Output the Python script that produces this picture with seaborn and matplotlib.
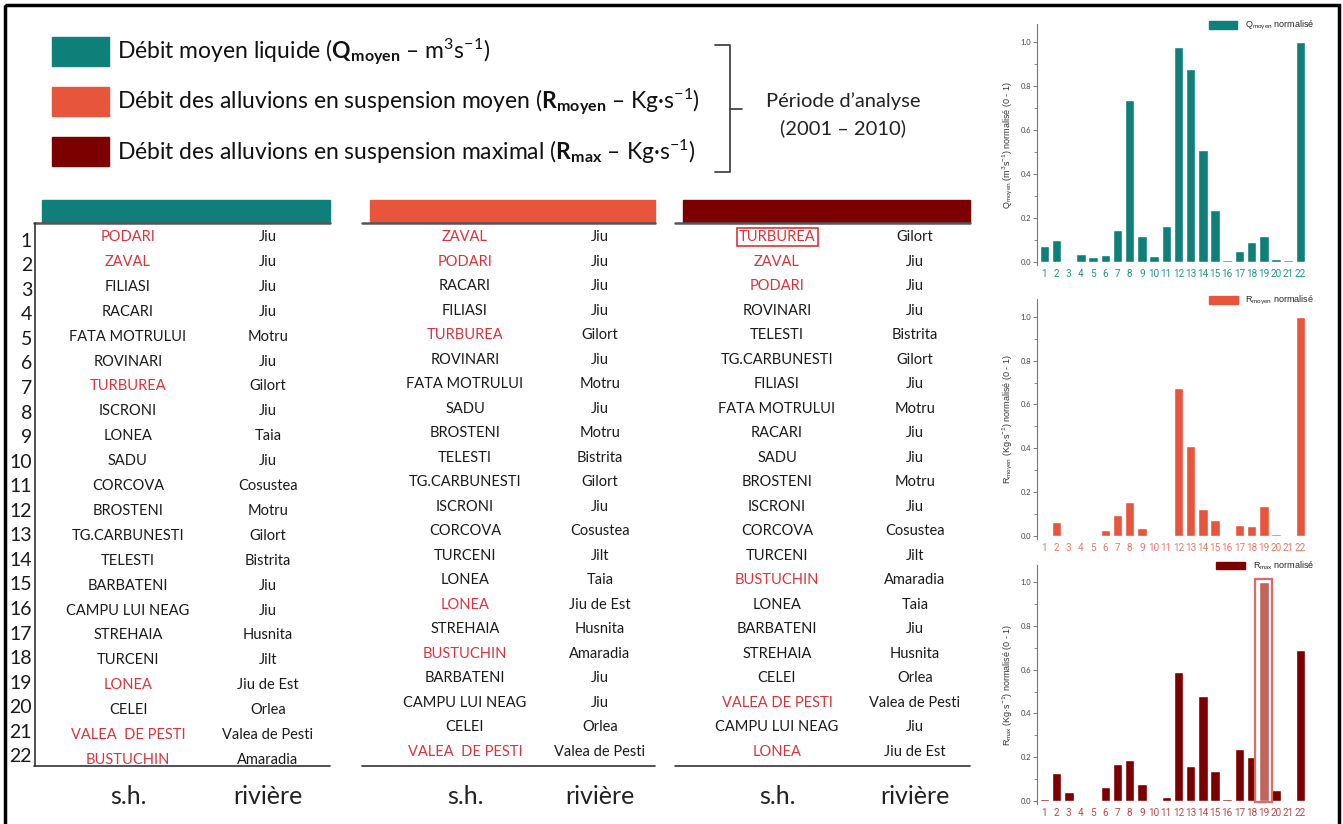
import numpy as np
import pandas as pd
import matplotlib.pyplot as plt
import seaborn as sns
from matplotlib import font_manager
from matplotlib.patches import Rectangle, Patch

stations = [str(i) for i in range(1, 23)]
q_moyen = [0.071, 0.099, 0.0, 0.036, 0.021, 0.033, 0.147, 0.736, 0.119, 0.027, 0.166,
           0.976, 0.878, 0.508, 0.236, 0.009, 0.049, 0.091, 0.119, 0.012, 0.009, 1.0]
r_moyen = [0.002, 0.062, 0.002, 0.002, 0.002, 0.024, 0.093, 0.155, 0.035, 0.002, 0.004,
           0.677, 0.410, 0.123, 0.072, 0.002, 0.050, 0.046, 0.134, 0.006, 0.0, 1.0]
r_max = [0.008, 0.128, 0.040, 0.003, 0.004, 0.065, 0.167, 0.186, 0.079, 0.0, 0.020,
         0.589, 0.160, 0.481, 0.137, 0.007, 0.239, 0.200, 1.0, 0.050, 0.002, 0.688]

# classements (s.h. / rivière)
sh_q = ['PODARI', 'ZAVAL', 'FILIASI', 'RACARI', 'FATA MOTRULUI', 'ROVINARI', 'TURBUREA',
        'ISCRONI', 'LONEA', 'SADU', 'CORCOVA', 'BROSTENI', 'TG.CARBUNESTI', 'TELESTI',
        'BARBATENI', 'CAMPU LUI NEAG', 'STREHAIA', 'TURCENI', 'LONEA', 'CELEI',
        'VALEA  DE PESTI', 'BUSTUCHIN']
riv_q = ['Jiu', 'Jiu', 'Jiu', 'Jiu', 'Motru', 'Jiu', 'Gilort', 'Jiu', 'Taia', 'Jiu',
         'Cosustea', 'Motru', 'Gilort', 'Bistrita', 'Jiu', 'Jiu', 'Husnita', 'Jilt',
         'Jiu de Est', 'Orlea', 'Valea de Pesti', 'Amaradia']
sh_rmoy = ['ZAVAL', 'PODARI', 'RACARI', 'FILIASI', 'TURBUREA', 'ROVINARI', 'FATA MOTRULUI',
           'SADU', 'BROSTENI', 'TELESTI', 'TG.CARBUNESTI', 'ISCRONI', 'CORCOVA', 'TURCENI',
           'LONEA', 'LONEA', 'STREHAIA', 'BUSTUCHIN', 'BARBATENI', 'CAMPU LUI NEAG',
           'CELEI', 'VALEA  DE PESTI']
riv_rmoy = ['Jiu', 'Jiu', 'Jiu', 'Jiu', 'Gilort', 'Jiu', 'Motru', 'Jiu', 'Motru', 'Bistrita',
            'Gilort', 'Jiu', 'Cosustea', 'Jilt', 'Taia', 'Jiu de Est', 'Husnita', 'Amaradia',
            'Jiu', 'Jiu', 'Orlea', 'Valea de Pesti']
sh_rmax = ['TURBUREA', 'ZAVAL', 'PODARI', 'ROVINARI', 'TELESTI', 'TG.CARBUNESTI', 'FILIASI',
           'FATA MOTRULUI', 'RACARI', 'SADU', 'BROSTENI', 'ISCRONI', 'CORCOVA', 'TURCENI',
           'BUSTUCHIN', 'LONEA', 'BARBATENI', 'STREHAIA', 'CELEI', 'VALEA DE PESTI',
           'CAMPU LUI NEAG', 'LONEA']
riv_rmax = ['Gilort', 'Jiu', 'Jiu', 'Jiu', 'Bistrita', 'Gilort', 'Jiu', 'Motru', 'Jiu', 'Jiu',
            'Motru', 'Jiu', 'Cosustea', 'Jilt', 'Amaradia', 'Taia', 'Jiu', 'Husnita', 'Orlea',
            'Valea de Pesti', 'Jiu', 'Jiu de Est']
# stations mises en évidence (en rouge)
highlight = [('PODARI', 'Jiu'), ('ZAVAL', 'Jiu'), ('TURBUREA', 'Gilort'),
             ('LONEA', 'Jiu de Est'), ('VALEA DE PESTI', 'Valea de Pesti'),
             ('BUSTUCHIN', 'Amaradia')]

legend_lines = [r"Débit moyen liquide ($\mathbf{Q_{moyen}}$ – m$^3$s$^{-1}$)",
                r"Débit des alluvions en suspension moyen ($\mathbf{R_{moyen}}$ – Kg·s$^{-1}$)",
                r"Débit des alluvions en suspension maximal ($\mathbf{R_{max}}$ – Kg·s$^{-1}$)"]

TEAL = '#0f7f7a'
ORANGE = '#e8553d'
DARKRED = '#7d0000'
RED_TXT = '#d8343c'

sns.set_theme(style='white')
plt.rcParams['font.family'] = ['Lato', 'DejaVu Sans']
plt.rcParams['mathtext.fontset'] = 'custom'
plt.rcParams['mathtext.rm'] = 'Lato'
plt.rcParams['mathtext.bf'] = 'Lato:bold'
plt.rcParams['mathtext.it'] = 'Lato:italic'

# police étroite pour les numéros des stations, si disponible
installed = {f.name for f in font_manager.fontManager.ttflist}
if 'Liberation Sans Narrow' in installed:
    narrow, narrow_size = 'Liberation Sans Narrow', 9
else:
    narrow, narrow_size = 'Roboto', 7.2

fig = plt.figure(figsize=(13.43, 8.24), dpi=100)
bg = fig.add_axes([0, 0, 1, 1])
bg.set_xlim(0, 1343)
bg.set_ylim(824, 0)
bg.axis('off')

# cadre
bg.add_patch(Rectangle((5, 5), 1334, 830, fill=False, ec='black', lw=2.5))

# légende à gauche
for i, (txt, col) in enumerate(zip(legend_lines, [TEAL, ORANGE, DARKRED])):
    y = 52 + i * 50
    bg.add_patch(Rectangle((52, y - 15), 57, 29, color=col))
    bg.text(117, y, txt, fontsize=16.5, va='center', ha='left', color='#111111')

# accolade + période
bg.plot([715, 730, 730, 715], [45, 45, 172, 172], color='#444444', lw=1.3)
bg.plot([730, 742], [109, 109], color='#444444', lw=1.3)
bg.text(843, 101, "Période d’analyse", fontsize=14.5, ha='center', va='center', color='#222222')
bg.text(843, 128, "(2001 – 2010)", fontsize=14.5, ha='center', va='center', color='#222222')


def draw_table(x0, x1, color, names, rivers, name_x, riv_x, y_last, boxed=()):
    bg.add_patch(Rectangle((x0, 200), x1 - x0, 22, color=color))
    bg.plot([x0 - 8, x1], [223, 223], color='#555555', lw=1.8)
    bg.plot([x0 - 8, x1], [766, 766], color='#333333', lw=1.2)
    step = (y_last - 237) / (len(names) - 1)
    for i, (n, r) in enumerate(zip(names, rivers)):
        y = 237 + i * step
        red = (' '.join(n.split()), r) in highlight
        c = RED_TXT if red else '#1a1a1a'
        box = None
        if i in boxed:
            box = dict(boxstyle='square,pad=0.15', fc='none', ec=RED_TXT, lw=1.2)
        bg.text(name_x, y, n, fontsize=10.5, ha='center', va='center', color=c, bbox=box)
        bg.text(riv_x, y, r, fontsize=10.5, ha='center', va='center', color='#1a1a1a')
    bg.text(name_x, 796, 's.h.', fontsize=18, ha='center', va='center', color='#222222')
    bg.text(riv_x, 796, 'rivière', fontsize=18, ha='center', va='center', color='#222222')


draw_table(42, 330, TEAL, sh_q, riv_q, 128, 268, 760)
bg.plot([35, 35], [223, 766], color='#333333', lw=1.2)
for i in range(len(sh_q)):
    bg.text(32, 241 + i * (757 - 241) / 21, str(i + 1), fontsize=14, ha='right',
            va='center', color='#1a1a1a')
draw_table(370, 655, ORANGE, sh_rmoy, riv_rmoy, 465, 600, 752)
draw_table(683, 970, DARKRED, sh_rmax, riv_rmax, 777, 915, 752, boxed=(0,))

# histogrammes normalisés
panels = [
    (q_moyen, TEAL, '#1f948e', r"Q$_{\mathrm{moyen}}$ normalisé",
     r"Q$_{\mathrm{moyen}}$ (m$^3$s$^{-1}$) normalisé (0 - 1)", [0.7722, 0.678, 0.216, 0.2923]),
    (r_moyen, ORANGE, '#e87a66', r"R$_{\mathrm{moyen}}$ normalisé",
     r"R$_{\mathrm{moyen}}$ (Kg·s$^{-1}$) normalisé (0 - 1)", [0.7722, 0.3459, 0.216, 0.2907]),
    (r_max, DARKRED, '#b54a48', r"R$_{\mathrm{max}}$ normalisé",
     r"R$_{\mathrm{max}}$ (Kg·s$^{-1}$) normalisé (0 - 1)", [0.7722, 0.0239, 0.216, 0.291]),
]

for vals, col, tcol, leg, ylab, pos in panels:
    ax = fig.add_axes(pos)
    df = pd.DataFrame({'station': stations, 'val': vals})
    sns.barplot(data=df, x='station', y='val', color=col, saturation=1, width=0.78, ax=ax)
    ax.set_facecolor('none')
    ax.set_xlim(-0.6, 23.2)
    ax.set_ylim(-0.015, 1.08)
    for s in ['top', 'right', 'bottom']:
        ax.spines[s].set_visible(False)
    ax.spines['left'].set_color('#777777')
    ax.spines['left'].set_linewidth(0.8)
    ax.set_yticks(np.arange(0, 1.01, 0.2))
    ax.set_yticklabels([f'{t:.1f}' for t in np.arange(0, 1.01, 0.2)])
    ax.set_yticks(np.arange(0.1, 1.01, 0.2), minor=True)
    ax.tick_params(axis='y', which='major', length=3, width=0.7, color='#777777',
                   labelsize=5.5, labelcolor='#444444', left=True, pad=1.5)
    ax.tick_params(axis='y', which='minor', length=2, width=0.6, color='#777777', left=True)
    ax.tick_params(axis='x', length=0, pad=3)
    for lab in ax.get_xticklabels():
        lab.set_color(tcol)
        lab.set_fontsize(narrow_size)
        lab.set_family([narrow, 'DejaVu Sans'])
    ax.set_xlabel('')
    ax.set_ylabel(ylab, fontsize=6.5, color='#333333', family=['Liberation Sans', 'DejaVu Sans'],
                  labelpad=4)
    ax.legend(handles=[Patch(color=col, label=leg)], loc='upper right', frameon=False,
              handlelength=3.2, handleheight=0.9, borderaxespad=0.1,
              bbox_to_anchor=(0.97, 1.04), prop={'family': ['Liberation Sans', 'DejaVu Sans'],
                                                   'size': 6.5})

# barre maximale de R_max mise en évidence
idx = int(np.argmax(r_max))
ax.patches[idx].set_facecolor('#c2645e')
ax.add_patch(Rectangle((idx - 0.68, -0.005), 1.36, max(r_max) + 0.02, fill=False,
                       ec='#e06a66', lw=1.6))

fig.savefig('out.png', dpi=100)
